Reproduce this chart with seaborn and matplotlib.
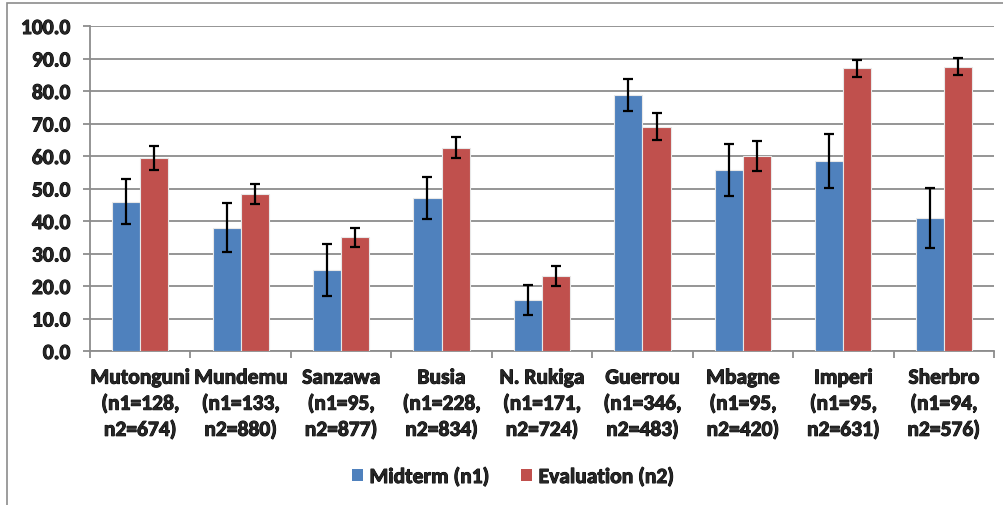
import matplotlib
matplotlib.use("Agg")
import matplotlib.pyplot as plt
import matplotlib.patheffects as pe
import seaborn as sns
import pandas as pd
import numpy as np
from matplotlib.patches import Rectangle, Patch

sites = ["Mutonguni", "Mundemu", "Sanzawa", "Busia", "N. Rukiga",
         "Guerrou", "Mbagne", "Imperi", "Sherbro"]
n1 = [128, 133, 95, 228, 171, 346, 95, 95, 94]
n2 = [674, 880, 877, 834, 724, 483, 420, 631, 576]
midterm = [46.0, 38.0, 25.0, 47.0, 15.7, 78.8, 55.8, 58.5, 41.0]
midterm_err = [7.0, 7.5, 8.0, 6.5, 4.7, 4.8, 8.0, 8.2, 9.2]
evaluation = [59.5, 48.3, 35.0, 62.5, 23.0, 69.0, 60.0, 87.0, 87.5]
evaluation_err = [3.7, 3.2, 3.0, 3.2, 3.1, 4.1, 4.6, 2.6, 2.7]
series = ["Midterm (n1)", "Evaluation (n2)"]
colors = ["#4F81BD", "#C0504D"]
yticks = [0, 10, 20, 30, 40, 50, 60, 70, 80, 90, 100]

labels = [f"{s}\n(n1={a},\nn2={b})" for s, a, b in zip(sites, n1, n2)]

df = pd.DataFrame({
    "site": labels * 2,
    "series": [series[0]] * len(sites) + [series[1]] * len(sites),
    "value": midterm + evaluation,
})

sns.set_style("white")
plt.rcParams["font.family"] = ["Carlito", "DejaVu Sans"]
plt.rcParams["font.weight"] = "bold"
FS = 15.5
thick = [pe.withStroke(linewidth=0.7, foreground="black")]

fig = plt.figure(figsize=(10.04, 5.06), dpi=100)
ax = fig.add_axes([90 / 1004, 1 - 352 / 506, (994 - 90) / 1004, (352 - 27) / 506])

sns.barplot(data=df, x="site", y="value", hue="series", palette=colors,
            saturation=1, width=0.56, gap=0, errorbar=None, ax=ax, legend=False,
            edgecolor="#e8e8e8", linewidth=0.8, zorder=3)

errs = [midterm_err, evaluation_err]
for cont, vals, err in zip(ax.containers, [midterm, evaluation], errs):
    xs = [b.get_x() + b.get_width() / 2 for b in cont]
    ax.errorbar(xs, vals, yerr=err, fmt="none", ecolor="black",
                elinewidth=1.6, capsize=3.6, capthick=1.6, zorder=4)

ax.set_ylim(0, 100)
ax.set_xlim(-0.5, len(sites) - 0.5)
ax.set_yticks(yticks)
ax.set_yticklabels([f"{v:.1f}" for v in yticks])
ax.yaxis.grid(True, color="#8c8c8c", linewidth=1.3, zorder=0)
ax.set_axisbelow(True)
ax.set_xlabel("")
ax.set_ylabel("")

for side in ["top", "right"]:
    ax.spines[side].set_visible(False)
for side in ["left", "bottom"]:
    ax.spines[side].set_color("#8c8c8c")
    ax.spines[side].set_linewidth(1.3)

ax.tick_params(axis="y", which="major", length=5, width=1.3, color="#8c8c8c",
               pad=9, labelsize=FS, direction="out", left=True)
ax.set_xticks(np.arange(-0.5, len(sites), 1.0), minor=True)
ax.tick_params(axis="x", which="minor", length=5, width=1.3, color="#8c8c8c",
               direction="out", bottom=True)
ax.tick_params(axis="x", which="major", length=0, pad=12, labelsize=FS)
for t in ax.get_xticklabels():
    t.set_linespacing(1.38)
    t.set_fontweight("bold")
    t.set_path_effects(thick)
for t in ax.get_yticklabels():
    t.set_fontweight("bold")
    t.set_path_effects(thick)

handles = [Patch(facecolor=c, edgecolor="none") for c in colors]
leg = fig.legend(handles, series, loc="center", bbox_to_anchor=(513 / 1004, 1 - 478 / 506),
                 ncol=2, frameon=False, prop={"weight": "bold", "size": FS},
                 handlelength=0.5, handleheight=0.5, handletextpad=0.3, columnspacing=1.5)
for t in leg.get_texts():
    t.set_path_effects(thick)

fig.add_artist(Rectangle((7 / 1004, -0.1), 1.2, 1 - 4 / 506 + 0.1,
                         transform=fig.transFigure, fill=False,
                         edgecolor="#8c8c8c", linewidth=1.2))

fig.savefig("out.png", dpi=100)
